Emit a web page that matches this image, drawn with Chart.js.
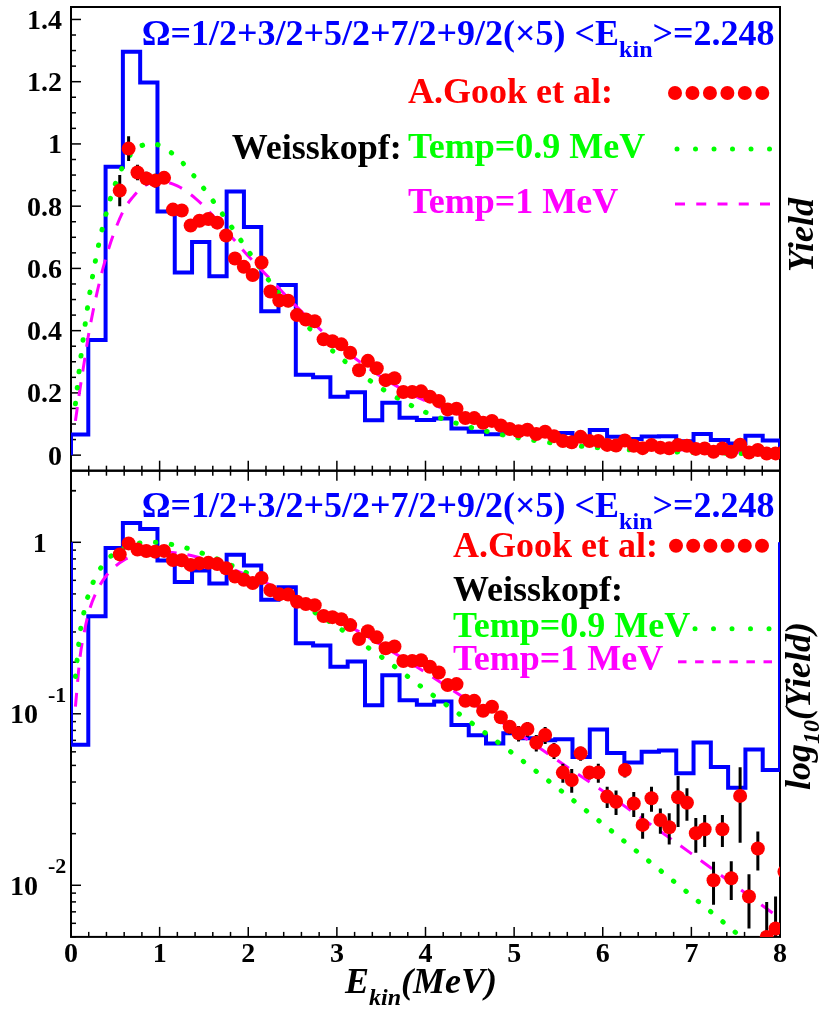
<!DOCTYPE html>
<html>
<head>
<meta charset="utf-8">
<script src="https://cdn.jsdelivr.net/npm/chart.js@4.4.0/dist/chart.umd.min.js"></script>
<style>
  html, body { margin: 0; padding: 0; background: #fff; }
  #wrap { position: relative; width: 827px; height: 1014px; }
  #wrap canvas { position: absolute; left: 0; top: 0; }
</style>
</head>
<body>
<div id="wrap">
  <canvas id="linPanel" width="827" height="1014"></canvas>
  <canvas id="logPanel" width="827" height="1014"></canvas>
</div>
<script>
// ---------------- data ----------------
// model histogram: 41 equal bins from 0 to 8 MeV
const histLow = 0;
const histHigh = 8;
const histYield = [0.066, 0.37, 0.927, 1.296, 1.197, 0.783, 0.587, 0.685, 0.575, 0.847,
                   0.733, 0.462, 0.547, 0.258, 0.25, 0.188, 0.202, 0.112, 0.168, 0.12,
                   0.113, 0.118, 0.086, 0.075, 0.067, 0.077, 0.072, 0.070, 0.071, 0.056,
                   0.081, 0.059, 0.052, 0.060, 0.061, 0.045, 0.068, 0.049, 0.037, 0.062, 0.047];

// measured spectrum (A.Gook et al)
const gookE = [0.55, 0.65, 0.75, 0.85, 0.95, 1.05, 1.15, 1.25, 1.35, 1.45,
               1.55, 1.65, 1.75, 1.85, 1.95, 2.05, 2.15, 2.25, 2.35, 2.45,
               2.55, 2.65, 2.75, 2.85, 2.95, 3.05, 3.15, 3.25, 3.35, 3.45,
               3.55, 3.65, 3.75, 3.85, 3.95, 4.05, 4.15, 4.25, 4.35, 4.45,
               4.55, 4.65, 4.75, 4.85, 4.95, 5.05, 5.15, 5.25, 5.35, 5.45,
               5.55, 5.65, 5.75, 5.85, 5.95, 6.05, 6.15, 6.25, 6.35, 6.45,
               6.55, 6.65, 6.75, 6.85, 6.95, 7.05, 7.15, 7.25, 7.35, 7.45,
               7.55, 7.65, 7.75, 7.85, 7.95, 8.05];
const gookYield = [0.85, 0.985, 0.908, 0.889, 0.882, 0.891, 0.789, 0.786, 0.738, 0.753,
                   0.759, 0.747, 0.706, 0.632, 0.605, 0.579, 0.619, 0.526, 0.497, 0.496,
                   0.450, 0.436, 0.430, 0.372, 0.366, 0.356, 0.329, 0.273, 0.303, 0.279,
                   0.241, 0.247, 0.203, 0.203, 0.205, 0.188, 0.174, 0.147, 0.149, 0.119,
                   0.119, 0.104, 0.110, 0.0954, 0.0841, 0.0769, 0.0815, 0.0678, 0.0752, 0.061,
                   0.0454, 0.0411, 0.0588, 0.0454, 0.0454, 0.0329, 0.0307, 0.047, 0.030, 0.0225,
                   0.0322, 0.024, 0.0218, 0.0326, 0.0303, 0.0201, 0.0212, 0.0107, 0.0212, 0.011,
                   0.0332, 0.0086, 0.0164, 0.0050, 0.0056, 0.012];
const gookErr = [0.05, 0.04, 0.025, 0.022, 0.022, 0.02, 0.015, 0.015, 0.015, 0.015,
                 0.014, 0.014, 0.013, 0.012, 0.012, 0.012, 0.012, 0.011, 0.011, 0.011,
                 0.010, 0.010, 0.010, 0.009, 0.009, 0.009, 0.009, 0.008, 0.008, 0.008,
                 0.008, 0.008, 0.007, 0.007, 0.007, 0.007, 0.007, 0.007, 0.007, 0.007,
                 0.007, 0.008, 0.008, 0.008, 0.008, 0.008, 0.008, 0.0075, 0.0085, 0.0065,
                 0.0058, 0.0065, 0.0055, 0.004, 0.0058, 0.0047, 0.005, 0.0045, 0.005, 0.0038,
                 0.0054, 0.004, 0.0045, 0.0107, 0.0065, 0.0046, 0.0045, 0.003, 0.0045, 0.0028,
                 0.0155, 0.003, 0.0042, 0.003, 0.003, 0.004];

// Weisskopf evaporation curves
const curveE = [0.05, 0.1, 0.15, 0.2, 0.3, 0.4, 0.5, 0.6, 0.7, 0.8,
                0.9, 1.0, 1.2, 1.4, 1.6, 1.8, 2.0, 2.25, 2.5, 2.75,
                3.0, 3.5, 4.0, 4.5, 5.0, 5.5, 6.0, 6.5, 7.0, 7.5, 8.0];
const weisskopfT09 = [0.165, 0.29, 0.40, 0.50, 0.66, 0.78, 0.872, 0.935, 0.975, 0.995,
                      1.002, 0.995, 0.956, 0.893, 0.818, 0.738, 0.656, 0.555, 0.468, 0.39,
                      0.323, 0.215, 0.138, 0.090, 0.058, 0.0366, 0.0228, 0.0141, 0.0087, 0.0053, 0.0032];
const weisskopfT1 = [0.11, 0.21, 0.30, 0.39, 0.53, 0.64, 0.725, 0.79, 0.83, 0.86,
                     0.875, 0.88, 0.865, 0.826, 0.77, 0.705, 0.64, 0.565, 0.49, 0.42,
                     0.357, 0.252, 0.174, 0.118, 0.080, 0.053, 0.0355, 0.0234, 0.0153, 0.0099, 0.0064];

// axis labels
const xTickLabels = ['0', '1', '2', '3', '4', '5', '6', '7', '8'];
const linTickValues = [0, 0.2, 0.4, 0.6, 0.8, 1, 1.2, 1.4];
const linTickLabels = ['0', '0.2', '0.4', '0.6', '0.8', '1', '1.2', '1.4'];
const logTickValues = [1, 0.1, 0.01];
const logTickExponents = ['', '-1', '-2'];

// ---------------- styling ----------------
const SERIF = '"Liberation Serif", "Times New Roman", serif';
const BLUE = '#0000ff', RED = '#ff0000', GREEN = '#00ff00', MAGENTA = '#ff00ff';
const PLOT_L = 71, PLOT_R = 780, W = 827, H = 1014;

function histPath(base) {
  const w = (histHigh - histLow) / histYield.length;
  const pts = [{ x: histLow, y: base }];
  histYield.forEach((v, i) => pts.push({ x: histLow + i * w, y: v }));
  pts.push({ x: histHigh, y: base });
  return pts;
}
const pairs = (xs, ys) => xs.map((x, i) => ({ x, y: ys[i] }));

function datasets(base) {
  return [
    { id: 'hist', data: histPath(base), stepped: 'before', borderColor: BLUE, borderWidth: 4,
      pointRadius: 0, fill: false, clip: 0, order: 4 },
    { id: 't1', data: pairs(curveE, weisskopfT1), borderColor: MAGENTA, borderWidth: 3,
      borderDash: [14, 11], pointRadius: 0, cubicInterpolationMode: 'monotone', clip: 0, order: 3 },
    { id: 't09', data: pairs(curveE, weisskopfT09), borderColor: GREEN, borderWidth: 5,
      borderDash: [0.5, 15.5], borderCapStyle: 'round', pointRadius: 0,
      cubicInterpolationMode: 'monotone', clip: 0, order: 2 },
    { id: 'gook', data: pairs(gookE, gookYield), showLine: false, pointRadius: 7,
      pointBackgroundColor: RED, pointBorderColor: RED, pointBorderWidth: 0, clip: 0, order: 1 }
  ];
}

function txt(ctx, s, x, y, font, color, align) {
  ctx.font = font;
  ctx.fillStyle = color;
  ctx.textAlign = align || 'left';
  ctx.textBaseline = 'alphabetic';
  ctx.fillText(s, x, y);
  return ctx.measureText(s).width;
}

function drawTitle(ctx, x, base) {
  const big = 'bold 36px ' + SERIF, small = 'bold 24px ' + SERIF;
  let cx = x;
  cx += txt(ctx, 'Ω=1/2+3/2+5/2+7/2+9/2(×5) <E', cx, base, big, BLUE);
  cx += txt(ctx, 'kin', cx, base + 12, small, BLUE);
  txt(ctx, '>=2.248', cx, base, big, BLUE);
}

function legendDots(ctx, x0, step, n, y, r, color) {
  ctx.fillStyle = color;
  for (let i = 0; i < n; i++) {
    ctx.beginPath(); ctx.arc(x0 + i * step, y, r, 0, Math.PI * 2); ctx.fill();
  }
}
function legendDashes(ctx, x0, dash, gap, n, y, color) {
  ctx.strokeStyle = color; ctx.lineWidth = 3;
  for (let i = 0; i < n; i++) {
    const s = x0 + i * (dash + gap);
    ctx.beginPath(); ctx.moveTo(s, y); ctx.lineTo(s + dash, y); ctx.stroke();
  }
}

function xTicks(ctx, xs, yEdge, dir) {
  ctx.strokeStyle = '#000'; ctx.lineWidth = 1.5;
  for (let i = 0; i <= 40; i++) {
    const px = xs.getPixelForValue(i * 0.2);
    const len = i % 5 === 0 ? 10 : 5;
    ctx.beginPath(); ctx.moveTo(px, yEdge); ctx.lineTo(px, yEdge + dir * len); ctx.stroke();
  }
}

function frame(ctx, a) {
  ctx.strokeStyle = '#000'; ctx.lineWidth = 2;
  ctx.strokeRect(a.left, a.top, a.right - a.left, a.bottom - a.top);
}

function errorBars(chart, args) {
  const ds = chart.data.datasets[args.index];
  if (ds.id !== 'gook') return;
  const { ctx, chartArea: a, scales: { x, y } } = chart;
  ctx.save();
  ctx.beginPath(); ctx.rect(a.left, a.top, a.right - a.left, a.bottom - a.top); ctx.clip();
  ctx.strokeStyle = '#000'; ctx.lineWidth = 3;
  gookE.forEach((e, i) => {
    const lo = Math.max(gookYield[i] - gookErr[i], 1e-6);
    const hi = gookYield[i] + gookErr[i];
    const px = x.getPixelForValue(e);
    ctx.beginPath(); ctx.moveTo(px, y.getPixelForValue(lo)); ctx.lineTo(px, y.getPixelForValue(hi)); ctx.stroke();
  });
  ctx.restore();
}

const baseOptions = (padTop, padBottom, yScale) => ({
  responsive: false, animation: false, devicePixelRatio: 1, events: [],
  layout: { padding: { left: PLOT_L, right: W - PLOT_R, top: padTop, bottom: padBottom } },
  plugins: { legend: { display: false }, tooltip: { enabled: false } },
  scales: { x: { type: 'linear', min: 0, max: 8, display: false }, y: yScale }
});

// ---------------- linear panel ----------------
const linDecor = {
  id: 'linDecor',
  beforeDatasetsDraw(chart) {
    const { ctx, chartArea: a, scales: { x, y } } = chart;
    ctx.save();
    frame(ctx, a);
    xTicks(ctx, x, a.bottom, -1);
    ctx.strokeStyle = '#000'; ctx.lineWidth = 1.5;
    for (let i = 0; i <= 28; i++) {
      const py = y.getPixelForValue(i * 0.05);
      const len = i % 4 === 0 ? 10 : 5;
      ctx.beginPath(); ctx.moveTo(a.left, py); ctx.lineTo(a.left + len, py); ctx.stroke();
    }
    ctx.restore();
  },
  beforeDatasetDraw: errorBars,
  afterDraw(chart) {
    const { ctx, scales: { y } } = chart;
    ctx.save();
    const f = 'bold 28px ' + SERIF;
    linTickValues.forEach((v, i) => txt(ctx, linTickLabels[i], 62, y.getPixelForValue(v) + 9.5, f, '#000', 'right'));
    drawTitle(ctx, 141.7, 45);
    const lf = 'bold 36px ' + SERIF;
    txt(ctx, 'A.Gook et al:', 408, 103, lf, RED);
    legendDots(ctx, 675, 17.46, 6, 93, 7, RED);
    txt(ctx, 'Weisskopf:', 231.7, 159, lf, '#000');
    txt(ctx, 'Temp=0.9 MeV', 408, 158, lf, GREEN);
    legendDots(ctx, 677, 18.5, 6, 149, 2.5, GREEN);
    txt(ctx, 'Temp=1 MeV', 408, 213, lf, MAGENTA);
    legendDashes(ctx, 675, 10, 11.25, 5, 204, MAGENTA);
    // right-hand axis title
    ctx.translate(813, 235); ctx.rotate(-Math.PI / 2);
    txt(ctx, 'Yield', 0, 0, 'bold italic 36px ' + SERIF, '#000', 'center');
    ctx.restore();
  }
};

new Chart(document.getElementById('linPanel'), {
  type: 'line',
  data: { datasets: datasets(0) },
  options: baseOptions(3.3, H - 470.7, { type: 'linear', min: -0.05, max: 1.44, display: false }),
  plugins: [linDecor]
});

// ---------------- logarithmic panel ----------------
const logDecor = {
  id: 'logDecor',
  beforeDatasetsDraw(chart) {
    const { ctx, chartArea: a, scales: { x, y } } = chart;
    ctx.save();
    frame(ctx, a);
    xTicks(ctx, x, a.bottom, -1);
    xTicks(ctx, x, a.top, 1);
    ctx.strokeStyle = '#000'; ctx.lineWidth = 1.5;
    for (let dec = -3; dec <= 0; dec++) {
      for (let k = 1; k <= 9; k++) {
        const v = k * Math.pow(10, dec);
        if (v < y.min || v > y.max) continue;
        const py = y.getPixelForValue(v);
        const len = k === 1 ? 10 : 5;
        ctx.beginPath(); ctx.moveTo(a.left, py); ctx.lineTo(a.left + len, py); ctx.stroke();
      }
    }
    const py2 = y.getPixelForValue(2);
    ctx.beginPath(); ctx.moveTo(a.left, py2); ctx.lineTo(a.left + 5, py2); ctx.stroke();
    ctx.restore();
  },
  beforeDatasetDraw: errorBars,
  afterDraw(chart) {
    const { ctx, scales: { x, y } } = chart;
    ctx.save();
    const f = 'bold 28px ' + SERIF, fs = 'bold 22px ' + SERIF;
    logTickValues.forEach((v, i) => {
      const py = y.getPixelForValue(v);
      if (logTickExponents[i] === '') {
        txt(ctx, '1', 46.7, py + 9.5, f, '#000', 'right');
      } else {
        txt(ctx, '10', 38, py + 9.5, f, '#000', 'right');
        txt(ctx, logTickExponents[i], 48, py - 12, fs, '#000', 'left');
      }
    });
    xTickLabels.forEach((s, i) => txt(ctx, s, x.getPixelForValue(i), 962, f, '#000', 'center'));
    // x axis title
    const bi = 'bold italic 36px ' + SERIF, bis = 'bold italic 24px ' + SERIF;
    let cx = 345;
    cx += txt(ctx, 'E', cx, 993, bi, '#000');
    cx += txt(ctx, 'kin', cx, 1005, bis, '#000');
    txt(ctx, '(MeV)', cx, 993, bi, '#000');

    drawTitle(ctx, 141.7, 517);
    const lf = 'bold 36px ' + SERIF;
    txt(ctx, 'A.Gook et al:', 453, 557.4, lf, RED);
    legendDots(ctx, 676, 17.2, 6, 545.8, 7, RED);
    txt(ctx, 'Weisskopf:', 453, 601.4, lf, '#000');
    txt(ctx, 'Temp=0.9 MeV', 453, 636.5, lf, GREEN);
    legendDots(ctx, 695, 18.5, 5, 628.8, 2.5, GREEN);
    txt(ctx, 'Temp=1 MeV', 453, 669.9, lf, MAGENTA);
    legendDashes(ctx, 678, 8.5, 8.6, 6, 661.8, MAGENTA);

    // right-hand axis title: log10(Yield)
    ctx.translate(810, 706); ctx.rotate(-Math.PI / 2);
    ctx.font = bi; const w1 = ctx.measureText('log').width, w3 = ctx.measureText('(Yield)').width;
    ctx.font = bis; const w2 = ctx.measureText('10').width;
    let tx = -(w1 + w2 + w3) / 2;
    tx += txt(ctx, 'log', tx, 0, bi, '#000');
    tx += txt(ctx, '10', tx, 9, bis, '#000');
    txt(ctx, '(Yield)', tx, 0, bi, '#000');
    ctx.restore();
  }
};

new Chart(document.getElementById('logPanel'), {
  type: 'line',
  data: { datasets: datasets(1) },
  options: baseOptions(470.7, H - 936.9, { type: 'logarithmic', min: 0.005, max: 2.615, display: false }),
  plugins: [logDecor]
});
</script>
</body>
</html>
